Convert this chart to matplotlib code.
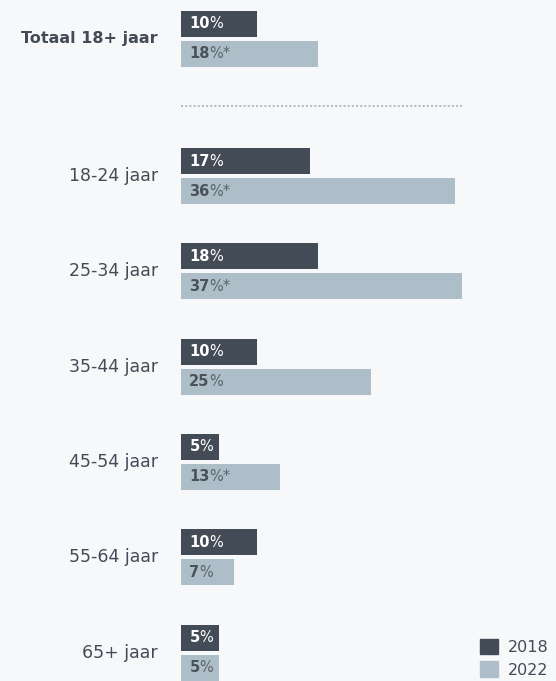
import matplotlib.pyplot as plt
from matplotlib.patches import Patch

plt.rcParams['font.family'] = ['DejaVu Sans']

groups = ['Totaal 18+ jaar', '18-24 jaar', '25-34 jaar', '35-44 jaar',
          '45-54 jaar', '55-64 jaar', '65+ jaar']
v2018 = [10, 17, 18, 10, 5, 10, 5]
v2022 = [18, 36, 37, 25, 13, 7, 5]
sig2022 = [True, True, True, False, True, False, False]

bg = '#f7f8fa'
dark = '#434c56'
light = '#adbec9'

fig = plt.figure(figsize=(5.56, 6.81), dpi=100, facecolor=bg)
ax = fig.add_axes([181 / 556, 0, 1 - 181 / 556, 1])
ax.set_facecolor(bg)
ax.set_xlim(0, (556 - 181) / 7.6)
ax.set_ylim(681, 0)
ax.axis('off')

# group centres in pixel rows: total first, then age groups
centres = [39] + [176 + i * 95.3 for i in range(6)]
bh = 26

for i, g in enumerate(groups):
    c = centres[i]
    y1 = c - 2 - bh / 2
    y2 = c + 2 + bh / 2
    ax.barh(y1, v2018[i], height=bh, color=dark)
    ax.barh(y2, v2022[i], height=bh, color=light)

    t = ax.annotate(str(v2018[i]), (0, y1), xytext=(6, 0), textcoords='offset points',
                    ha='left', va='center', color='white', fontsize=10.5, fontweight='bold')
    ax.annotate('%', xy=(1, 0), xycoords=t, xytext=(-0.5, 0), textcoords='offset points',
                ha='left', va='bottom', color='white', fontsize=10.5)
    t2 = ax.annotate(str(v2022[i]), (0, y2), xytext=(6, 0), textcoords='offset points',
                     ha='left', va='center', color='#4a525c', fontsize=10.5, fontweight='bold')
    ax.annotate('%*' if sig2022[i] else '%', xy=(1, 0), xycoords=t2, xytext=(-0.5, 0),
                textcoords='offset points', ha='left', va='bottom',
                color='#5b636c', fontsize=10.5)

    fig.text(158 / 556, 1 - c / 681, g, ha='right', va='center', color=dark,
             fontsize=11.5 if i == 0 else 12.5, fontweight='bold' if i == 0 else 'normal')

# dotted separator below the total
ax.plot([0, 37], [106, 106], color='#b3bfc9', lw=1.5, linestyle=(0, (1, 1)))

handles = [Patch(color=dark, label='2018'), Patch(color=light, label='2022')]
fig.legend(handles=handles, loc='lower left', bbox_to_anchor=(466 / 556, -0.016),
           frameon=False, handlelength=1.1, handleheight=1.1, handletextpad=0.6,
           labelspacing=0.4, fontsize=11.5, labelcolor=dark)

fig.savefig('out.png', dpi=100, facecolor=bg)
